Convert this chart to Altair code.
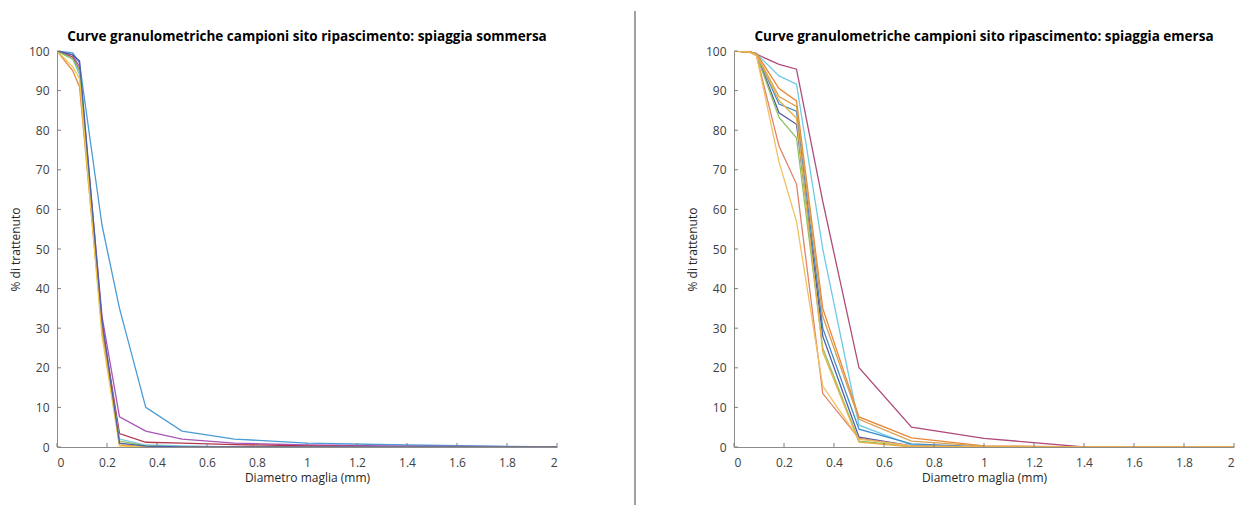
import altair as alt
import pandas as pd

# Sieve sizes (mm)
sieves = [0, 0.063, 0.09, 0.18, 0.25, 0.355, 0.5, 0.71, 1, 1.4, 2]

# Left panel: spiaggia sommersa
left_names = ["S1", "S2", "S3", "S4", "S5", "S6", "S7", "S8"]
left_colors = ["#4A9BD6", "#A855B8", "#B4364E", "#70C8E8", "#8DBF4F", "#E08A3C", "#EDC84A", "#4F5FA8"]
left_values = [
    [100, 99.5, 97.0, 56, 35.0, 10.0, 4.0, 2.0, 1.0, 0.5, 0],
    [100, 99.0, 96.0, 33, 7.6, 4.0, 2.0, 1.0, 0.5, 0.2, 0],
    [100, 98.5, 95.0, 31, 3.4, 1.2, 1.0, 0.6, 0.3, 0.0, 0],
    [100, 98.0, 94.0, 30, 2.0, 0.5, 0.3, 0.0, 0.0, 0.0, 0],
    [100, 98.0, 95.0, 30, 1.5, 0.3, 0.0, 0.0, 0.0, 0.0, 0],
    [100, 95.0, 91.0, 30, 0.5, 0.0, 0.0, 0.0, 0.0, 0.0, 0],
    [100, 96.0, 93.0, 28, 0.3, 0.0, 0.0, 0.0, 0.0, 0.0, 0],
    [100, 99.0, 97.5, 32, 1.0, 0.2, 0.0, 0.0, 0.0, 0.0, 0],
]

# Right panel: spiaggia emersa
right_names = ["E1", "E2", "E3", "E4", "E5", "E6", "E7", "E8", "E9", "E10"]
right_colors = ["#B04A7A", "#6CCBE8", "#E8873A", "#3F8CCB", "#4E5BA6", "#8FC262",
                "#E0826A", "#F0C060", "#D9A050", "#E8B048"]
right_values = [
    [100, 99.8, 99.2, 96.6, 95.4, 62, 20.0, 5.0, 2.2, 0, 0],
    [100, 99.8, 99.3, 93.7, 91.6, 50, 5.5, 0.5, 0.0, 0, 0],
    [100, 99.8, 99.4, 90.5, 87.4, 35, 7.6, 2.3, 0.3, 0, 0],
    [100, 99.8, 99.3, 86.6, 84.8, 30, 4.5, 0.8, 0.0, 0, 0],
    [100, 99.8, 99.2, 84.4, 81.5, 28, 2.5, 0.3, 0.0, 0, 0],
    [100, 99.7, 99.0, 83.2, 78.1, 25, 1.5, 0.2, 0.0, 0, 0],
    [100, 99.7, 98.8, 76.0, 66.4, 13.5, 2.2, 0.3, 0.0, 0, 0],
    [100, 99.7, 98.8, 72.0, 57.0, 15.4, 2.0, 0.3, 0.0, 0, 0],
    [100, 99.8, 99.2, 88.5, 86.0, 33, 7.0, 1.5, 0.2, 0, 0],
    [100, 99.8, 99.1, 87.5, 83.0, 24, 1.2, 0.0, 0.0, 0, 0],
]

x_ticks = [0, 0.2, 0.4, 0.6, 0.8, 1, 1.2, 1.4, 1.6, 1.8, 2]
y_ticks = [0, 10, 20, 30, 40, 50, 60, 70, 80, 90, 100]

W, H = 500, 396
FONT = "Open Sans"
X_TITLE = "Diametro maglia (mm)"
Y_TITLE = "% di trattenuto"


def long_df(names, values):
    rows = []
    for n, vals in zip(names, values):
        for i, (x, y) in enumerate(zip(sieves, vals)):
            rows.append({"x": x, "y": y, "serie": n, "o": i})
    return pd.DataFrame(rows)


def panel(names, colors, values, title):
    df = long_df(names, values)
    xs = alt.Scale(domain=[0, 2], nice=False)
    ys = alt.Scale(domain=[0, 100], nice=False)
    xax = alt.Axis(values=x_ticks, format="~g", labelOverlap=False)
    yax = alt.Axis(values=y_ticks, labelOverlap=False)
    lines = alt.Chart(df).mark_line(strokeWidth=1.3, clip=True).encode(
        x=alt.X("x:Q", scale=xs, title=X_TITLE, axis=xax),
        y=alt.Y("y:Q", scale=ys, title=Y_TITLE, axis=yax),
        color=alt.Color("serie:N", scale=alt.Scale(domain=names, range=colors), legend=None),
        order="o:Q",
    )
    xt = alt.Chart(pd.DataFrame({"t": x_ticks})).mark_rule(color="#7f7f7f", strokeWidth=1).encode(
        x=alt.X("t:Q", scale=xs, title=X_TITLE, axis=xax), y=alt.value(H), y2=alt.value(H - 4))
    yt = alt.Chart(pd.DataFrame({"t": y_ticks})).mark_rule(color="#7f7f7f", strokeWidth=1).encode(
        y=alt.Y("t:Q", scale=ys, title=Y_TITLE, axis=yax), x=alt.value(0), x2=alt.value(4))
    return alt.layer(lines, xt, yt).properties(
        width=W, height=H,
        title=alt.TitleParams(title, font=FONT, fontSize=13.5, fontWeight="bold",
                              color="#000000", offset=2, anchor="middle"))


left = panel(left_names, left_colors, left_values,
             "Curve granulometriche campioni sito ripascimento: spiaggia sommersa")
right = panel(right_names, right_colors, right_values,
              "Curve granulometriche campioni sito ripascimento: spiaggia emersa")

divider = alt.Chart(pd.DataFrame({"a": [0]})).mark_rule(color="#404040", strokeWidth=1).encode(
    x=alt.value(29), y=alt.value(-40), y2=alt.value(H + 58)
).properties(width=32, height=H)

chart = alt.hconcat(left, divider, right, spacing=48).resolve_scale(color="independent").properties(
    padding={"left": 1, "top": 2, "right": 0, "bottom": 0}
).configure_view(stroke=None).configure_axis(
    grid=False, ticks=False, domainColor="#8c8c8c", domainWidth=1,
    labelFont=FONT, labelFontSize=12, labelColor="#404040", labelPadding=8,
    titleFont=FONT, titleFontSize=12, titleFontWeight="normal", titleColor="#262626",
).configure_axisY(titlePadding=6).configure_axisX(labelPadding=10, titlePadding=4)

chart.save("out.html", embed_options={"renderer": "svg", "actions": False})
